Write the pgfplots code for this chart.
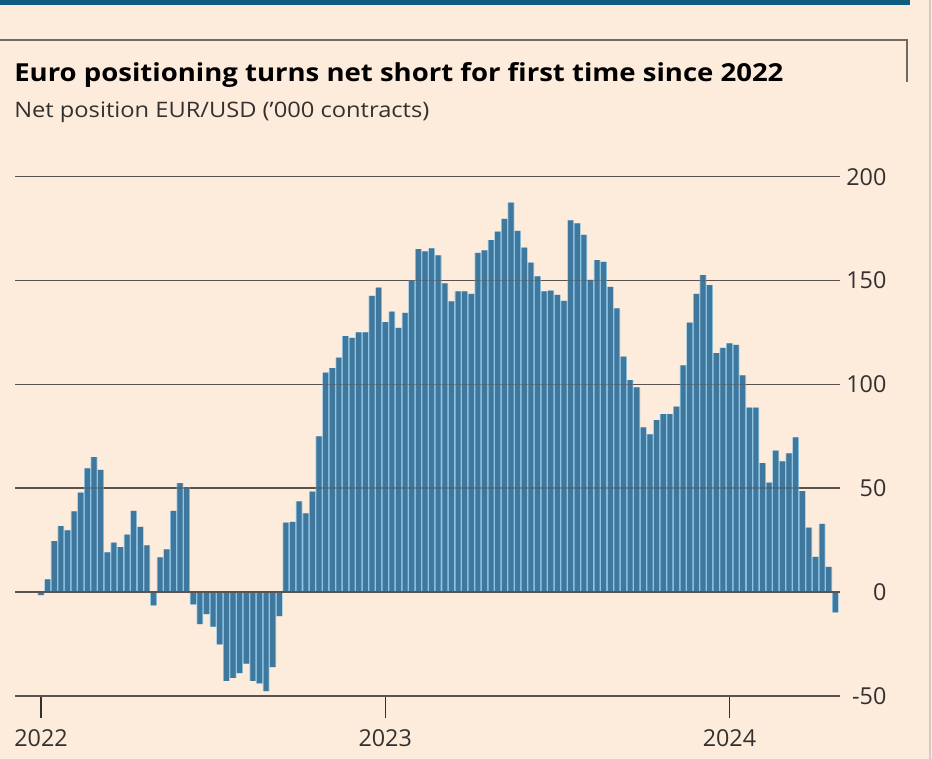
\documentclass[border=0pt]{standalone}
\usepackage{fontspec}
\setmainfont{Open Sans}
\usepackage{pgfplots}
\pgfplotsset{compat=1.18}
\usepackage{pgfplotstable}
\definecolor{bg}{HTML}{FDEBDC}
\definecolor{barc}{HTML}{40779C}
\definecolor{barl}{HTML}{8DC6E4}
\definecolor{gridc}{HTML}{5A5350}
\definecolor{textc}{HTML}{33302E}
\definecolor{tealc}{HTML}{0D5E80}
\definecolor{framec}{HTML}{6F6A66}
\definecolor{edgec}{HTML}{D5CBC2}
\pgfplotstableread{
i v
0 -1.5
1 6
2 24.5
3 31.7
4 29.7
5 38.8
6 47.8
7 59.5
8 65
9 58.8
10 19
11 23.8
12 21.6
13 27.6
14 39
15 31.4
16 22.4
17 -6.5
18 16.6
19 20.5
20 39.1
21 52.4
22 50.5
23 -6
24 -15.5
25 -10.7
26 -16.7
27 -25.3
28 -42.8
29 -41.4
30 -39.1
31 -34.5
32 -42.8
33 -44.1
34 -47.8
35 -36.2
36 -11.7
37 33.4
38 33.8
39 43.6
40 37.9
41 48.3
42 75
43 105.7
44 107.8
45 112.9
46 123.3
47 122.4
48 125
49 125
50 142.6
51 146.6
52 130
53 135
54 127.2
55 134.5
56 150
57 165.2
58 164.1
59 165.5
60 162.2
61 148.6
62 140
63 144.8
64 144.8
65 143.6
66 163.4
67 164.5
68 169.5
69 173.6
70 179.7
71 187.6
72 174
73 165.9
74 158.6
75 152
76 144.8
77 145.2
78 143.1
79 140.2
80 179
81 177.6
82 172
83 150.3
84 159.8
85 159
86 147
87 136.6
88 113.4
89 102.1
90 98.6
91 79.3
92 75.9
93 82.8
94 85.7
95 85.7
96 89.3
97 109.1
98 129.8
99 143.6
100 152.6
101 147.8
102 115
103 117.6
104 119.8
105 119
106 104.3
107 88.8
108 88.8
109 62
110 52.6
111 68.1
112 62.9
113 66.7
114 74.5
115 48.6
116 31
117 16.9
118 32.8
119 12.1
120 -9.8
}\datatable
\begin{document}
\begin{tikzpicture}
\begin{scope}[x=0.75pt,y=-0.75pt]
\useasboundingbox (0,0) rectangle (932,759);
\fill[bg] (0,0) rectangle (932,759);
\fill[tealc] (0,0) rectangle (910,5);
\draw[line width=1.1pt, edgec] (930,0) -- (930,759);
\draw[line width=1.1pt, framec] (0,40) -- (907,40) -- (907,82);
\node[anchor=base west, inner sep=0pt, text=black] at (14,82)
  {\scalebox{1.11}[1]{\fontsize{18.6pt}{22pt}\selectfont\bfseries Euro positioning turns net short for first time since 2022}};
\node[anchor=base west, inner sep=0pt, text=textc] at (14,118)
  {\scalebox{1.11}[1]{\fontsize{16pt}{19pt}\selectfont Net position EUR/USD (’000 contracts)}};
\end{scope}
\begin{axis}[
  at={(15*0.75pt,-695.7*0.75pt)}, anchor=south west,
  scale only axis, width=825*0.75pt, height=518.9*0.75pt,
  xmin=-3.93, xmax=120.7, ymin=-50, ymax=200,
  axis line style={draw=none},
  ytick={-50,0,50,100,150,200},
  yticklabel pos=right,
  ymajorgrids,
  grid style={line width=1pt, gridc},
  ytick style={draw=none},
  ytick align=inside,
  xtick pos=bottom,
  xtick={0,52,104}, xticklabels={2022,2023,2024},
  xtick style={draw=textc, line width=1pt},
  xtick align=outside,
  major tick length=16.5pt,
  /pgf/number format/assume math mode=true,
  yticklabel style={anchor=east, inner sep=0pt, xshift=35pt, text=textc, font=\fontsize{17.5pt}{20pt}\selectfont},
  xticklabel style={anchor=north, inner sep=0pt, yshift=-8.5pt, text=textc, font=\fontsize{17.5pt}{20pt}\selectfont},
  clip=false,
]
\addplot[ybar, bar shift=0pt, bar width=1, fill=barl, draw=none] table[x=i,y=v] {\datatable};
\addplot[ybar, bar shift=0pt, bar width=0.77, fill=barc, draw=none] table[x=i,y=v] {\datatable};
\draw[gridc, line width=1pt, opacity=0.45] (axis cs:-3.93,50) -- (axis cs:120.7,50);
\draw[gridc, line width=1pt, opacity=0.45] (axis cs:-3.93,100) -- (axis cs:120.7,100);
\draw[gridc, line width=1pt, opacity=0.45] (axis cs:-3.93,150) -- (axis cs:120.7,150);
\draw[gridc, line width=1pt] (axis cs:-3.93,0) -- (axis cs:120.7,0);
\draw[gridc, line width=1.5pt] (axis cs:-3.93,-50) -- (axis cs:120.7,-50);
\end{axis}
\end{tikzpicture}
\end{document}
